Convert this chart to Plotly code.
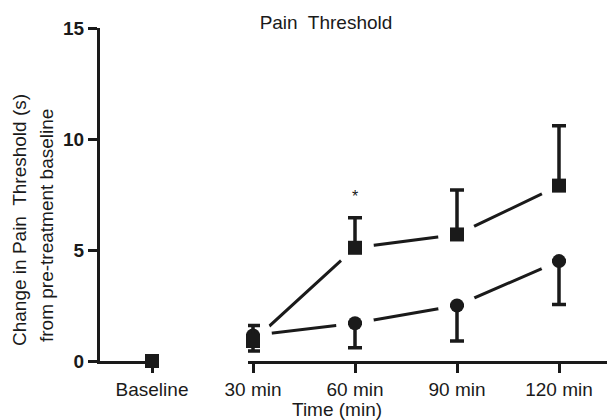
import plotly.graph_objects as go

# ---- data ----
categories = ["Baseline", "30 min", "60 min", "90 min", "120 min"]
square_mean = [0.0, 0.9, 5.1, 5.7, 7.9]
square_err_up = [0.0, 0.7, 1.35, 2.0, 2.7]
circle_mean = [0.0, 1.15, 1.7, 2.5, 4.5]
circle_err_down = [0.0, 0.7, 1.1, 1.6, 1.95]
y_ticks = [0, 5, 10, 15]
title_text = "Pain\u00a0 Threshold"
y_title_1 = "Change in Pain\u00a0 Threshold (s)"
y_title_2 = "from pre-treatment baseline"
x_title = "Time (min)"

INK = "#1a1a1a"
FONT = "Liberation Sans, Arial, sans-serif"

W, H = 607, 420
ML, MR, MT, MB = 100, 0, 28, 59
PW = W - ML - MR
PH = H - MT - MB

pos = list(range(len(categories)))
tp = pos[1:]

fig = go.Figure()

# connecting lines (time points only, broken axis)
for m in (square_mean, circle_mean):
    fig.add_trace(go.Scatter(x=tp, y=m[1:], mode="lines",
                             line=dict(color=INK, width=3),
                             xaxis="x2", yaxis="y", hoverinfo="skip",
                             showlegend=False))
# white masks that make the gaps around the symbols
for m in (square_mean, circle_mean):
    fig.add_trace(go.Scatter(x=tp, y=m[1:], mode="markers",
                             marker=dict(symbol="circle", size=38, color="white"),
                             xaxis="x2", yaxis="y", hoverinfo="skip",
                             cliponaxis=False, showlegend=False))

# circles with downward error bars
fig.add_trace(go.Scatter(x=tp, y=circle_mean[1:], mode="markers",
                         marker=dict(symbol="circle", size=14, color=INK),
                         error_y=dict(type="data", symmetric=False,
                                      array=[0] * len(tp),
                                      arrayminus=circle_err_down[1:],
                                      color=INK, thickness=3.5, width=7),
                         xaxis="x2", yaxis="y", cliponaxis=False,
                         showlegend=False))
# squares with upward error bars
fig.add_trace(go.Scatter(x=tp, y=square_mean[1:], mode="markers",
                         marker=dict(symbol="square", size=14, color=INK),
                         error_y=dict(type="data", symmetric=False,
                                      array=square_err_up[1:],
                                      arrayminus=[0] * len(tp),
                                      color=INK, thickness=3.5, width=7),
                         xaxis="x2", yaxis="y", cliponaxis=False,
                         showlegend=False))
# baseline points
fig.add_trace(go.Scatter(x=[pos[0]], y=[circle_mean[0]], mode="markers",
                         marker=dict(symbol="circle", size=14, color=INK),
                         xaxis="x", yaxis="y", cliponaxis=False, showlegend=False))
fig.add_trace(go.Scatter(x=[pos[0]], y=[square_mean[0]], mode="markers",
                         marker=dict(symbol="square", size=14, color=INK),
                         xaxis="x", yaxis="y", cliponaxis=False, showlegend=False))

px_per_unit = 102.0
d1_left, d1_right = 100, 158
d2_left, d2_right = 248, 607
base_px, first_px = 152, 253

r1 = [pos[0] - (base_px - d1_left) / px_per_unit,
      pos[0] + (d1_right - base_px) / px_per_unit]
r2 = [pos[1] - (first_px - d2_left) / px_per_unit,
      pos[1] + (d2_right - first_px) / px_per_unit]

axis_common = dict(showline=True, linewidth=3, linecolor=INK, ticks="outside",
                   ticklen=9, tickwidth=3, tickcolor=INK, showgrid=False,
                   zeroline=False, automargin=False,
                   tickfont=dict(family=FONT, size=19, color=INK))

fig.update_layout(
    width=W, height=H,
    margin=dict(l=ML, r=MR, t=MT, b=MB, autoexpand=False),
    paper_bgcolor="white", plot_bgcolor="white",
    font=dict(family=FONT, size=19, color=INK),
    title=dict(text=title_text, x=326 / W, xref="container", xanchor="center",
               y=1 - 22 / H, yref="container", yanchor="middle",
               font=dict(family=FONT, size=19, color=INK)),
    xaxis=dict(domain=[(d1_left - ML) / PW, (d1_right - ML) / PW], range=r1,
               tickvals=[pos[0]], ticktext=[categories[0]], anchor="y",
               **axis_common),
    xaxis2=dict(domain=[(d2_left - ML) / PW, (d2_right - ML) / PW], range=r2,
                tickvals=tp, ticktext=categories[1:], anchor="y",
                **axis_common),
    yaxis=dict(range=[0, 15], tickvals=y_ticks, anchor="x",
               **{**axis_common,
                  "tickfont": dict(family=FONT, size=19, color=INK, weight="bold")}),
    showlegend=False,
)

def py(p):
    return (H - MB - p) / PH

def pxx(p):
    return (p - ML) / PW

fig.add_annotation(text=y_title_1, textangle=-90, x=pxx(19), y=py(220),
                   xref="paper", yref="paper", showarrow=False,
                   xanchor="center", yanchor="middle",
                   font=dict(family=FONT, size=19, color=INK))
fig.add_annotation(text=y_title_2, textangle=-90, x=pxx(47), y=py(226),
                   xref="paper", yref="paper", showarrow=False,
                   xanchor="center", yanchor="middle",
                   font=dict(family=FONT, size=19, color=INK))
fig.add_annotation(text=x_title, x=pxx(337), y=py(409),
                   xref="paper", yref="paper", showarrow=False,
                   xanchor="center", yanchor="middle",
                   font=dict(family=FONT, size=19, color=INK))
fig.add_annotation(text="*", x=tp[1], y=7.4, xref="x2", yref="y",
                   showarrow=False, xanchor="center", yanchor="middle",
                   font=dict(family=FONT, size=16, color=INK))

fig.write_html("out.html")
